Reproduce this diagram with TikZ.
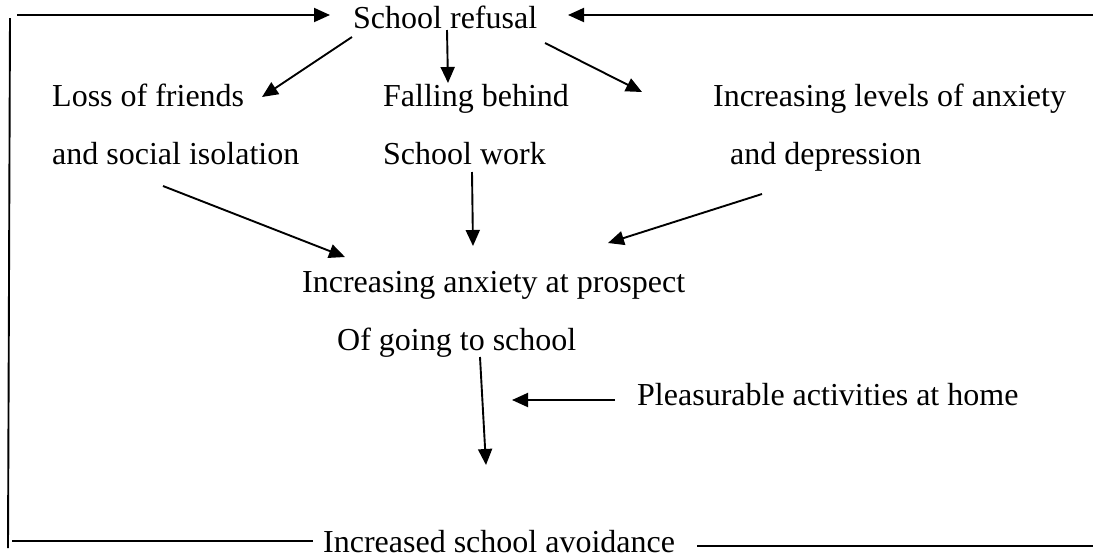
\documentclass[tikz,border=0pt]{standalone}
\usepackage{fontspec}
\setmainfont{Liberation Serif}
\usetikzlibrary{arrows.meta}
\begin{document}
\begin{tikzpicture}[x=1pt,y=-1pt,
  lbl/.style={anchor=base west,inner sep=0pt,font=\fontsize{32}{38}\selectfont},
  conn/.style={line width=1.9pt},
  arr/.style={conn,-{Triangle[length=16pt,width=14pt]}}]
\useasboundingbox (0,0) rectangle (1093,558);
% text nodes
\node[lbl] (sr) at (353,28) {School refusal};
\node[lbl] (loss) at (52,106) {Loss of friends};
\node[lbl] (soc) at (52,164) {and social isolation};
\node[lbl] (fall) at (383,106) {Falling behind};
\node[lbl] (sw) at (383,164) {School work};
\node[lbl] (lev) at (713,106) {Increasing levels of anxiety};
\node[lbl] (dep) at (730,164) {and depression};
\node[lbl] (iap) at (302,292) {Increasing anxiety at prospect};
\node[lbl] (ogs) at (337,350) {Of going to school};
\node[lbl] (pl) at (637,405) {Pleasurable activities at home};
\node[lbl] (isa) at (323,552) {Increased school avoidance};
% connector end points
\coordinate (tl) at (17,15);
\coordinate (srL) at (330,15);
\coordinate (tr) at (1093,15);
\coordinate (srR) at (568,15);
\coordinate (vt) at (10,18);
\coordinate (vb) at (8,548);
\coordinate (bl) at (12,541);
\coordinate (isaL) at (313,541);
\coordinate (isaR) at (697,546);
\coordinate (br) at (1093,546);
\coordinate (a1s) at (352,37);  \coordinate (a1e) at (262,97);
\coordinate (a2s) at (447,30);  \coordinate (a2e) at (448,83);
\coordinate (a3s) at (545,43);  \coordinate (a3e) at (642,92);
\coordinate (b1s) at (163,186); \coordinate (b1e) at (345,257);
\coordinate (b2s) at (472,172); \coordinate (b2e) at (473,246);
\coordinate (b3s) at (762,194); \coordinate (b3e) at (608,243);
\coordinate (c1s) at (480,357); \coordinate (c1e) at (486,465);
\coordinate (plL) at (615,400); \coordinate (c2e) at (512,400);
% connectors
\draw[arr] (tl) -- (srL);
\draw[arr] (tr) -- (srR);
\draw[conn] (vt) -- (vb);
\draw[conn] (bl) -- (isaL);
\draw[conn] (isaR) -- (br);
\draw[arr] (a1s) -- (a1e);
\draw[arr] (a2s) -- (a2e);
\draw[arr] (a3s) -- (a3e);
\draw[arr] (b1s) -- (b1e);
\draw[arr] (b2s) -- (b2e);
\draw[arr] (b3s) -- (b3e);
\draw[arr] (c1s) -- (c1e);
\draw[arr] (plL) -- (c2e);
\end{tikzpicture}
\end{document}
